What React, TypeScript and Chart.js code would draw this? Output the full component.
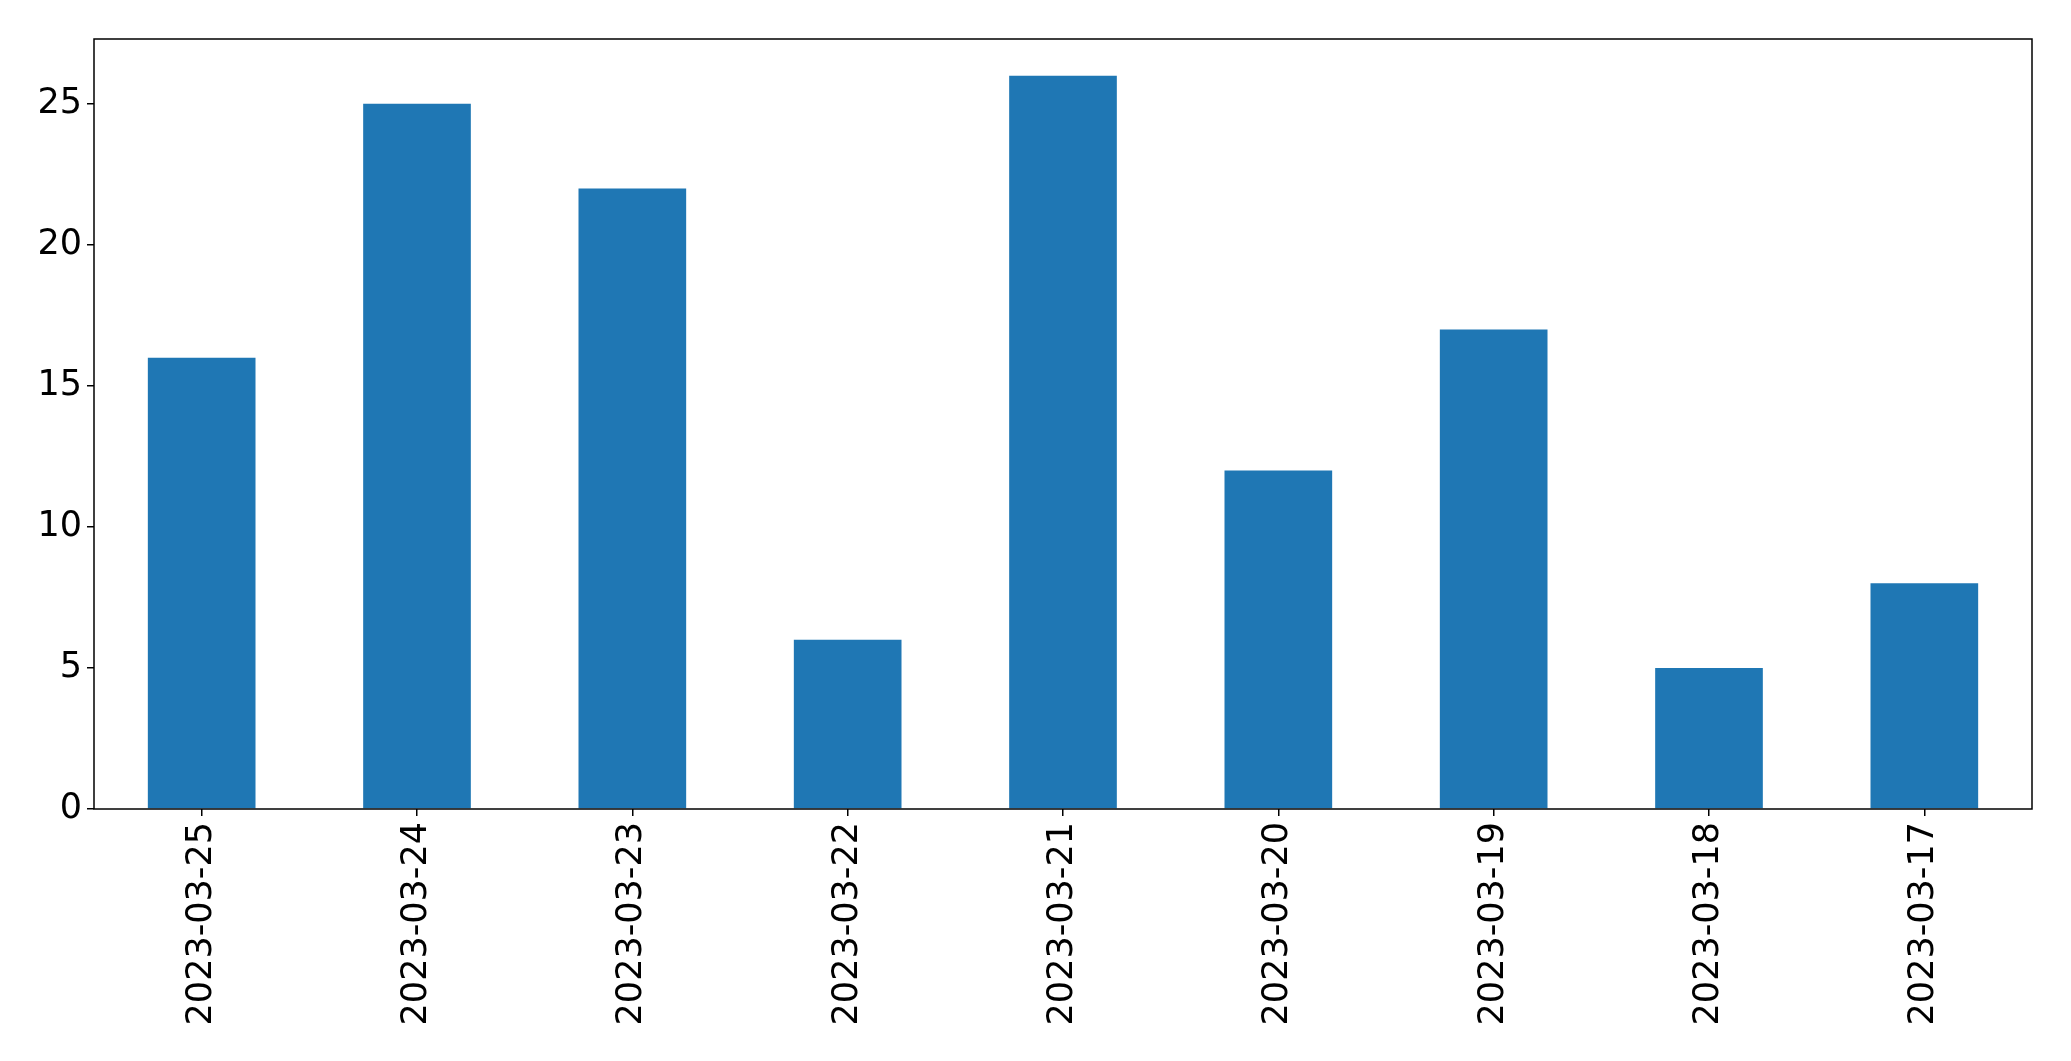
import React, { useEffect, useRef } from "react";
import { Chart, registerables } from "chart.js";

Chart.register(...registerables);

const categories: string[] = [
  "2023-03-25",
  "2023-03-24",
  "2023-03-23",
  "2023-03-22",
  "2023-03-21",
  "2023-03-20",
  "2023-03-19",
  "2023-03-18",
  "2023-03-17",
];
const counts: number[] = [16, 25, 22, 6, 26, 12, 17, 5, 8];
const yTicks: number[] = [0, 5, 10, 15, 20, 25];
const yMax = 27.3;

const FONT = "'DejaVu Sans', sans-serif";

const frame = {
  id: "frame",
  afterDraw(chart: any) {
    const { ctx, chartArea } = chart;
    ctx.save();
    ctx.strokeStyle = "#000";
    ctx.lineWidth = 1.5;
    ctx.strokeRect(chartArea.left, chartArea.top, chartArea.right - chartArea.left, chartArea.bottom - chartArea.top);
    ctx.restore();
  },
};

export default function App() {
  const ref = useRef<HTMLCanvasElement | null>(null);
  useEffect(() => {
    document.body.style.margin = "0";
    const c = ref.current!;
    const chart = new Chart(c, {
      type: "bar",
      data: {
        labels: categories,
        datasets: [
          {
            data: counts,
            backgroundColor: "#1f77b4",
            barPercentage: 0.5,
            categoryPercentage: 1,
          },
        ],
      },
      options: {
        animation: false,
        responsive: false,
        devicePixelRatio: 1,
        layout: { padding: { left: 0, top: 39, right: 39, bottom: 0 } },
        plugins: { legend: { display: false }, tooltip: { enabled: false } },
        scales: {
          x: {
            offset: true,
            grid: { offset: false, drawOnChartArea: false, drawTicks: true, tickLength: 7, color: "#000", lineWidth: 1.5 },
            border: { display: false },
            ticks: {
              font: { family: FONT, size: 35 },
              color: "#000",
              minRotation: 90,
              maxRotation: 90,
              padding: 6,
              autoSkip: false,
            },
            afterFit: (s: any) => {
              s.height = 252;
            },
          },
          y: {
            min: 0,
            max: yMax,
            afterBuildTicks: (s: any) => {
              s.ticks = yTicks.map((v) => ({ value: v }));
            },
            grid: { drawOnChartArea: false, drawTicks: true, tickLength: 7, color: "#000", lineWidth: 1.5 },
            border: { display: false },
            ticks: {
              font: { family: FONT, size: 35 },
              color: "#000",
              padding: 5,
            },
            afterFit: (s: any) => {
              s.width = 94;
            },
          },
        },
      },
      plugins: [frame],
    });
    return () => chart.destroy();
  }, []);
  return (
    <div style={{ position: "fixed", left: 0, top: 0, width: 2071, height: 1061, background: "#fff" }}>
      <canvas ref={ref} width={2071} height={1061} style={{ width: 2071, height: 1061 }} />
    </div>
  );
}
